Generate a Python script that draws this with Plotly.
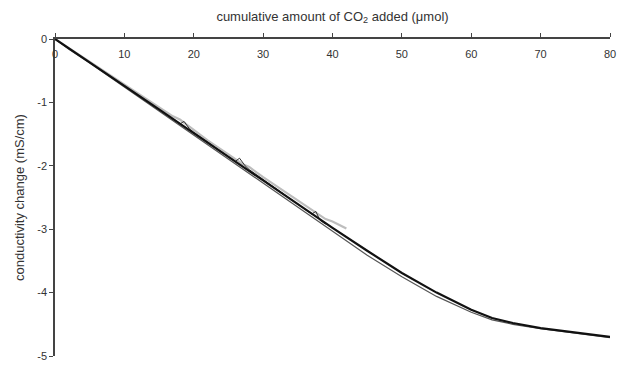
import plotly.graph_objects as go

# Thick black series
xA = [0, 2, 5, 10, 15, 20, 25, 30, 35, 40, 45, 50, 55, 60, 63, 66, 70, 75, 80]
yA = [0, -0.15, -0.37, -0.74, -1.11, -1.49, -1.86, -2.23, -2.61, -2.98, -3.34, -3.69, -4.00, -4.27, -4.40, -4.48, -4.56, -4.63, -4.70]

# Thin dark grey series
xB = [0, 2, 5, 10, 15, 20, 25, 30, 35, 40, 45, 50, 55, 60, 63, 66, 70, 75, 80]
yB = [0, -0.16, -0.38, -0.76, -1.14, -1.52, -1.90, -2.28, -2.66, -3.04, -3.41, -3.75, -4.06, -4.31, -4.43, -4.50, -4.57, -4.64, -4.71]

# Light grey series (short)
xC = [0, 5, 10, 15, 17, 18, 20, 22, 25, 27, 28, 30, 33, 36, 38, 39, 40, 42]
yC = [0, -0.36, -0.72, -1.08, -1.22, -1.27, -1.44, -1.60, -1.82, -1.97, -2.02, -2.18, -2.40, -2.62, -2.77, -2.84, -2.88, -2.99]

# Dark thin series with small steps (short)
xD = [0, 10, 18, 18.6, 19.4, 20, 26, 26.6, 27.4, 28, 37, 37.6, 38.2, 39]
yD = [0, -0.75, -1.34, -1.30, -1.42, -1.47, -1.93, -1.88, -2.00, -2.06, -2.76, -2.72, -2.86, -2.92]

x_ticks = [0, 10, 20, 30, 40, 50, 60, 70, 80]
y_ticks = [0, -1, -2, -3, -4, -5]

fig = go.Figure()
fig.add_trace(go.Scatter(x=xC, y=yC, mode="lines", line=dict(color="#bdbdbd", width=2.2), showlegend=False))
fig.add_trace(go.Scatter(x=xD, y=yD, mode="lines", line=dict(color="#333333", width=1), showlegend=False))
fig.add_trace(go.Scatter(x=xB, y=yB, mode="lines", line=dict(color="#555555", width=1.2), showlegend=False))
fig.add_trace(go.Scatter(x=xA, y=yA, mode="lines", line=dict(color="#111111", width=2.2), showlegend=False))
# invisible trace to activate the label axis
fig.add_trace(go.Scatter(x=[xA[-1]], y=[yA[-1]], xaxis="x2", mode="markers",
                         marker=dict(opacity=0, color="white"), showlegend=False, hoverinfo="skip"))

fig.update_layout(
    width=624, height=370,
    margin=dict(l=55, r=12, t=39, b=8),
    paper_bgcolor="white", plot_bgcolor="white",
    font=dict(family="Liberation Sans, Arial, sans-serif", size=11, color="#333333"),
    xaxis=dict(
        side="top", range=[0, 80], tickvals=x_ticks, ticktext=[str(v) for v in x_ticks],
        ticks="outside", ticklen=4, tickcolor="#444", showline=True, linecolor="#444", linewidth=1.5,
        showticklabels=False, showgrid=False, zeroline=False,
        title=dict(text="cumulative amount of CO<sub>2</sub> added (μmol)", standoff=9),
    ),
    xaxis2=dict(
        overlaying="x", side="bottom", anchor="free", position=1, range=[0, 80],
        tickvals=x_ticks, ticktext=[str(v) for v in x_ticks], ticks="", showline=False,
        showgrid=False, zeroline=False, ticklabelstandoff=7,
    ),
    yaxis=dict(
        range=[-5, 0], tickvals=y_ticks, ticktext=[str(v) for v in y_ticks],
        ticks="outside", ticklen=4, tickcolor="#444", showline=True, linecolor="#444", linewidth=1.5,
        showgrid=False, zeroline=False,
        title=dict(text="conductivity change (mS/cm)", standoff=10),
    ),
)
fig.write_html("out.html")
